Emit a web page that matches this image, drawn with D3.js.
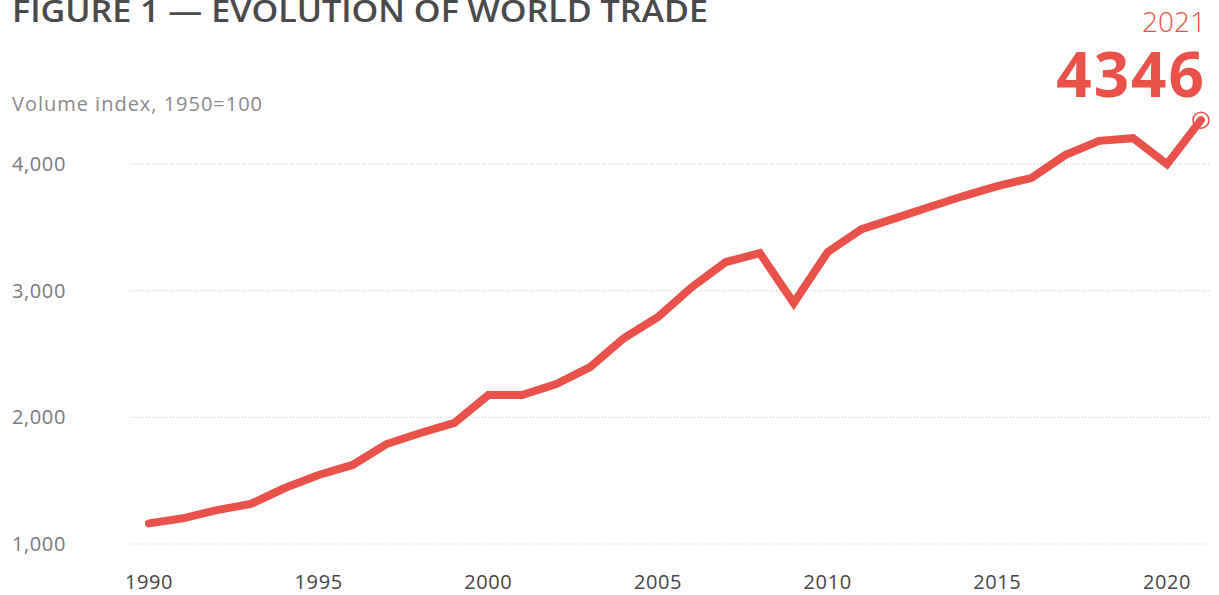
<!DOCTYPE html>
<html>
<head>
<meta charset="utf-8">
<script src="https://cdn.jsdelivr.net/npm/d3@7"></script>
<style>
  body { margin: 0; background: #fff; }
  svg { display: block; font-family: "Open Sans", Lato, sans-serif; }
</style>
</head>
<body>
<svg id="chart" width="1219" height="595"></svg>
<script>
// data
const years  = [1990, 1991, 1992, 1993, 1994, 1995, 1996, 1997, 1998, 1999,
                2000, 2001, 2002, 2003, 2004, 2005, 2006, 2007, 2008, 2009,
                2010, 2011, 2012, 2013, 2014, 2015, 2016, 2017, 2018, 2019,
                2020, 2021];
const volume = [1163, 1203, 1268, 1316, 1442, 1545, 1624, 1789, 1876, 1957,
                2176, 2176, 2263, 2397, 2626, 2792, 3028, 3226, 3297, 2902,
                3305, 3486, 3573, 3660, 3747, 3826, 3889, 4070, 4183, 4204,
                3999, 4346];
const yTicks = [1000, 2000, 3000, 4000];
const xTicks = [1990, 1995, 2000, 2005, 2010, 2015, 2020];

const red = "#ea5149";

const svg = d3.select("#chart");

// scales
const x = d3.scaleLinear().domain([1990, 2020]).range([149, 1167]);
const y = d3.scaleLinear().domain([1000, 4000]).range([544, 164]);

// title (cut off at top in the source)
svg.append("text")
  .attr("x", 12).attr("y", 22)
  .attr("fill", "#4a4a4a")
  .attr("textLength", 696)
  .attr("lengthAdjust", "spacingAndGlyphs")
  .style("font-size", "30px")
  .style("font-weight", 600)
  .text("FIGURE 1 \u2014 EVOLUTION OF WORLD TRADE");

svg.append("text")
  .attr("x", 12).attr("y", 111)
  .attr("fill", "#8a8a8a")
  .attr("textLength", 250)
  .style("font-size", "20px")
  .text("Volume index, 1950=100");

// gridlines
svg.append("g")
  .selectAll("line")
  .data(yTicks)
  .join("line")
    .attr("x1", 131).attr("x2", 1210)
    .attr("y1", d => y(d)).attr("y2", d => y(d))
    .attr("stroke", "#c4c4c4")
    .attr("stroke-width", 1)
    .attr("stroke-dasharray", "1,2");

// y labels
svg.append("g")
  .selectAll("text")
  .data(yTicks)
  .join("text")
    .attr("x", 12)
    .attr("y", d => y(d) + 7)
    .attr("fill", "#7a7a7a")
    .style("font-size", "20px")
    .style("letter-spacing", "0.6px")
    .text(d3.format(","));

// x axis labels
svg.append("g")
  .selectAll("text")
  .data(xTicks)
  .join("text")
    .attr("x", d => x(d))
    .attr("y", 589)
    .attr("text-anchor", "middle")
    .attr("fill", "#454545")
    .style("font-size", "20px")
    .style("letter-spacing", "0.6px")
    .text(d => d);

// line
const data = years.map((yr, i) => ({ yr, v: volume[i] }));
const line = d3.line().x(d => x(d.yr)).y(d => y(d.v));

svg.append("path")
  .datum(data)
  .attr("d", line)
  .attr("fill", "none")
  .attr("stroke", red)
  .attr("stroke-width", 8)
  .attr("stroke-linejoin", "miter")
  .attr("stroke-linecap", "round");

// end marker + annotation
const last = data[data.length - 1];
svg.append("circle")
  .attr("cx", x(last.yr)).attr("cy", y(last.v))
  .attr("r", 8)
  .attr("fill", "none")
  .attr("stroke", red)
  .attr("stroke-width", 1.5);

svg.append("text")
  .attr("x", 1206).attr("y", 32)
  .attr("text-anchor", "end")
  .attr("fill", red)
  .style("font-size", "28px")
  .style("font-weight", 300)
  .text(last.yr);

svg.append("text")
  .attr("x", 1206).attr("y", 97)
  .attr("text-anchor", "end")
  .attr("fill", red)
  .style("font-size", "62px")
  .style("font-weight", 700)
  .style("letter-spacing", "2px")
  .text(last.v);
</script>
</body>
</html>
